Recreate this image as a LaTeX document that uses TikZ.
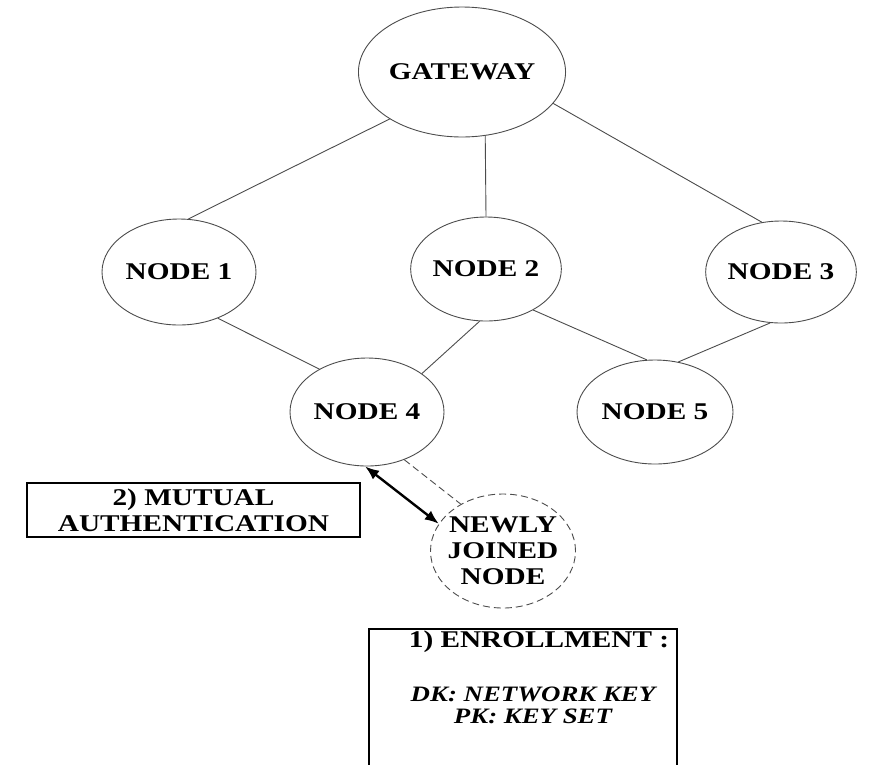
\documentclass[tikz,border=0pt]{standalone}
\usepackage{fontspec}
\setmainfont{Liberation Serif}[FakeStretch=1.22]
\usetikzlibrary{shapes.geometric,arrows.meta}
\begin{document}
\begin{tikzpicture}[x=1pt,y=-1pt,
  every node/.style={font=\fontsize{24}{26}\selectfont\bfseries, align=center},
  netnode/.style={ellipse, draw=black!70, line width=0.9pt, inner sep=0pt},
  link/.style={draw=black!70, line width=0.9pt},
  notebox/.style={draw=black, line width=2pt, inner sep=0pt},
  authtip/.tip={Latex[length=14pt,width=11pt]}]
\useasboundingbox (0,0) rectangle (874,764);
\clip (0,0) rectangle (874,764);

% network nodes
\node[netnode, minimum width=190pt, minimum height=130pt] (gw) at (462,72) {GATEWAY};
\node[netnode, minimum width=154pt, minimum height=106pt] (n1) at (179,272) {NODE 1};
\node[netnode, minimum width=147pt, minimum height=104pt] (n2) at (486,269) {NODE 2};
\node[netnode, minimum width=148pt, minimum height=102pt] (n3) at (781,272) {NODE 3};
\node[netnode, minimum width=154pt, minimum height=108pt] (n4) at (367,412) {NODE 4};
\node[netnode, minimum width=156pt, minimum height=104pt] (n5) at (655,412) {NODE 5};
% the joining node: outline sized on its own, text set over it
\node[netnode, dash pattern=on 7pt off 4pt, minimum width=145pt, minimum height=114pt] (new) at (503,551) {};
\node (newtext) at (new.center) {NEWLY\\JOINED\\NODE};

% links
\draw[link] (gw.213.7) -- (n1.80);
\draw[link] (gw.-70) -- (n2.north);
\draw[link] (gw.-19.4) -- (n3.111);
\draw[link] (n1.310) -- (n4.138);
\draw[link] (n2.263) -- (n4.35);
\draw[link] (n2.-41.3) -- (n5.99);
\draw[link] (n3.258) -- (n5.65);
\draw[link, dash pattern=on 7pt off 4pt] (n4.-52) -- (new.132);
\draw[line width=2.4pt, authtip-authtip] (n4.268) -- (new.157);

% note boxes
\node[notebox, minimum width=333pt, minimum height=54pt] (mutual) at (193.5,510) {2) MUTUAL\\AUTHENTICATION};
\node[notebox, anchor=north west, minimum width=308pt, minimum height=145pt] (enroll) at (368,628) {};
\node (enrolltitle) at (539,642) {1) ENROLLMENT :};
\node[font=\fontsize{22}{22}\selectfont\bfseries\itshape] (enrollkeys) at (533,705) {DK: NETWORK KEY\\PK: KEY SET};
\end{tikzpicture}
\end{document}
